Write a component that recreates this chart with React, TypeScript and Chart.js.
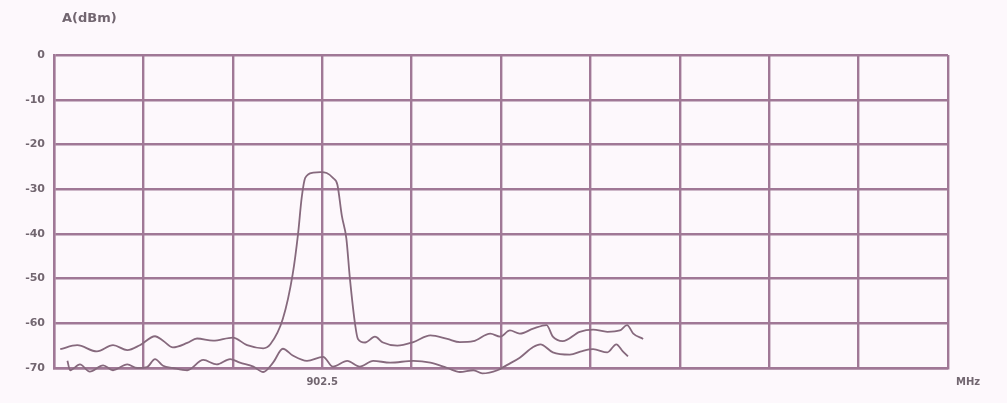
import React, { useEffect, useRef } from "react";
import { Chart, registerables } from "chart.js";

Chart.register(...registerables);

// x in grid divisions (10 divisions across the screen), y in dBm
const upperX = [0.07, 0.26, 0.48, 0.66, 0.82, 0.96, 1.13, 1.22, 1.33, 1.49, 1.6, 1.78, 2.0, 2.16, 2.34, 2.42, 2.56, 2.67, 2.73, 2.77, 2.81, 2.9, 2.98, 3.05, 3.12, 3.17, 3.22, 3.27, 3.31, 3.37, 3.4, 3.48, 3.59, 3.68, 3.84, 4.02, 4.21, 4.4, 4.54, 4.69, 4.88, 4.99, 5.1, 5.21, 5.36, 5.51, 5.58, 5.69, 5.88, 6.03, 6.19, 6.33, 6.41, 6.48, 6.59];
const upperY = [-65.8, -64.9, -66.3, -64.9, -66, -64.9, -62.9, -63.9, -65.4, -64.4, -63.4, -63.9, -63.2, -64.9, -65.6, -64.7, -59, -49, -40, -32, -27.5, -26.3, -26.2, -26.4, -27.5, -29, -36, -41, -50, -60.5, -63.5, -64.3, -63, -64.3, -65, -64.2, -62.7, -63.5, -64.2, -64, -62.3, -63, -61.6, -62.3, -61.2, -60.4, -63, -64, -61.9, -61.4, -61.9, -61.6, -60.4, -62.3, -63.5];

const lowerX = [0.15, 0.18, 0.29, 0.4, 0.55, 0.66, 0.82, 0.93, 1.04, 1.13, 1.22, 1.33, 1.49, 1.67, 1.82, 1.97, 2.08, 2.23, 2.34, 2.45, 2.56, 2.67, 2.83, 3.01, 3.12, 3.28, 3.42, 3.57, 3.76, 4.02, 4.21, 4.4, 4.54, 4.69, 4.79, 4.96, 5.07, 5.21, 5.36, 5.44, 5.58, 5.77, 5.91, 6.03, 6.19, 6.29, 6.36, 6.42];
const lowerY = [-68.4, -70.5, -69.2, -70.8, -69.4, -70.5, -69.2, -70, -69.8, -68, -69.5, -70, -70.5, -68.2, -69.2, -68, -68.8, -69.7, -70.9, -68.8, -65.7, -67.2, -68.4, -67.5, -69.7, -68.4, -69.7, -68.4, -68.8, -68.4, -68.8, -70, -70.9, -70.5, -71.2, -70.5, -69.3, -67.7, -65.3, -64.7, -66.5, -67, -66.2, -65.8, -66.5, -64.7, -66.2, -67.4];

const yTicks = [0, -10, -20, -30, -40, -50, -60, -70];
const xCenterLabel = "902.5";
const xCenterDiv = 3;
const yTitle = "A(dBm)";
const xUnit = "MHz";

const GRID = "#a07896";
const TRACE = "#86697d";
const TEXT = "#726670";

export default function App() {
  const ref = useRef<HTMLCanvasElement | null>(null);
  useEffect(() => {
    if (!ref.current) return;
    const textPlugin = {
      id: "texts",
      afterDraw(chart: any) {
        const ctx = chart.ctx;
        ctx.save();
        ctx.fillStyle = TEXT;
        ctx.font = "bold 13px 'DejaVu Sans'";
        ctx.textBaseline = "middle";
        ctx.textAlign = "left";
        ctx.fillText(yTitle, 62, 19);
        ctx.font = "bold 10px 'DejaVu Sans'";
        ctx.fillText(xUnit, 956, 382);
        ctx.restore();
      },
    };
    const chart = new Chart(ref.current, {
      type: "line",
      data: {
        datasets: [
          {
            data: upperX.map((x, i) => ({ x, y: upperY[i] })),
            borderColor: TRACE,
            borderWidth: 1.8,
            pointRadius: 0,
            cubicInterpolationMode: "monotone",
            clip: false,
          },
          {
            data: lowerX.map((x, i) => ({ x, y: lowerY[i] })),
            borderColor: TRACE,
            borderWidth: 1.8,
            pointRadius: 0,
            cubicInterpolationMode: "monotone",
            clip: false,
          },
        ] as any,
      },
      plugins: [textPlugin],
      options: {
        animation: false,
        responsive: false,
        maintainAspectRatio: false,
        layout: { padding: { left: 0, top: 55, right: 59, bottom: 0 } },
        plugins: { legend: { display: false }, tooltip: { enabled: false } },
        scales: {
          x: {
            type: "linear",
            min: 0,
            max: 10,
            afterFit(scale: any) {
              scale.height = 35;
            },
            afterBuildTicks(scale: any) {
              scale.ticks = Array.from({ length: 11 }, (_, i) => ({ value: i }));
            },
            ticks: {
              autoSkip: false,
              maxRotation: 0,
              padding: 8,
              color: TEXT,
              font: { family: "DejaVu Sans", size: 10, weight: "bold" },
              callback: (v: any) => (v === xCenterDiv ? xCenterLabel : ""),
            },
            grid: { color: GRID, lineWidth: 2.4, drawTicks: false },
            border: { color: GRID, width: 2.4 },
          },
          y: {
            type: "linear",
            min: -70,
            max: 0,
            afterFit(scale: any) {
              scale.width = 54;
            },
            afterBuildTicks(scale: any) {
              scale.ticks = yTicks.map((v) => ({ value: v }));
            },
            ticks: {
              padding: 9,
              color: TEXT,
              font: { family: "DejaVu Sans", size: 11, weight: "bold" },
            },
            grid: { color: GRID, lineWidth: 2.4, drawTicks: false },
            border: { color: GRID, width: 2.4 },
          },
        },
      } as any,
    });
    return () => chart.destroy();
  }, []);
  return (
    <div style={{ position: "fixed", left: 0, top: 0, width: 1007, height: 403, background: "#fdf8fc" }}>
      <canvas ref={ref} width={1007} height={403} style={{ width: 1007, height: 403 }} />
    </div>
  );
}
